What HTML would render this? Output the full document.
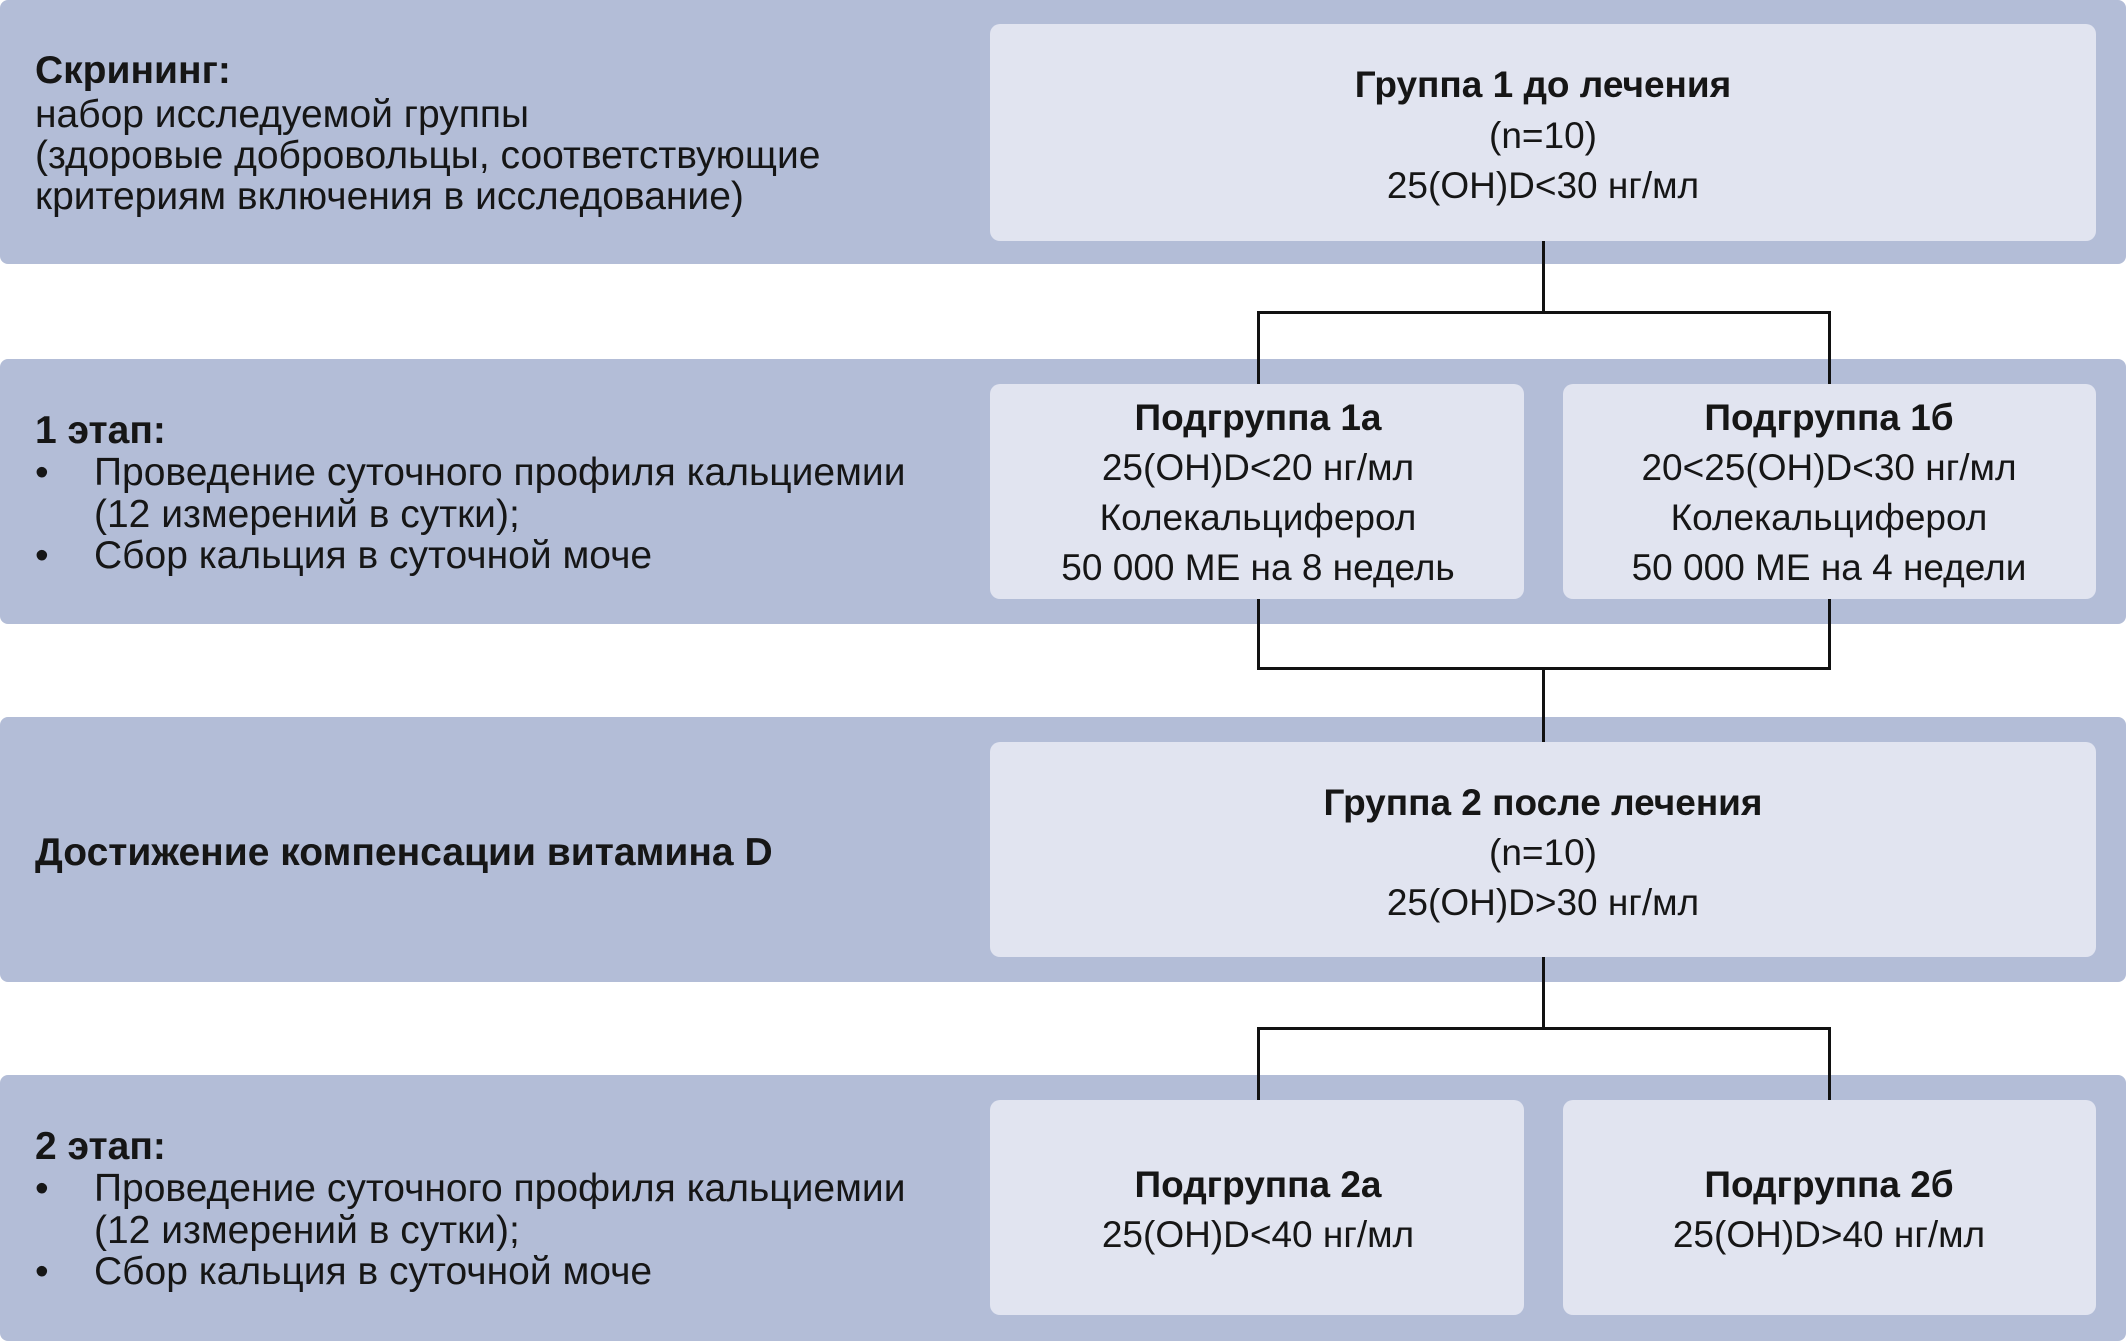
<!DOCTYPE html>
<html><head><meta charset="utf-8"><style>
body{margin:0;width:2126px;height:1341px;position:relative;background:#fff;font-family:"Liberation Sans","DejaVu Sans",sans-serif;color:#161616;overflow:hidden}
.band{position:absolute;left:0;width:2126px;background:#b3bdd7;border-radius:8px}
.box{position:absolute;background:#e1e4f0;border-radius:10px}
.t{position:absolute;font-size:39px;line-height:44px;white-space:nowrap;transform:translateY(-50%)}
.c{text-align:center;transform:translate(-50%,-50%);font-size:37px}
b{font-weight:bold}
.ln{position:absolute;background:#111}
</style></head><body>
<div class="band" style="top:0;height:264px"></div>
<div class="band" style="top:359px;height:265px"></div>
<div class="band" style="top:717px;height:265px"></div>
<div class="band" style="top:1075px;height:266px"></div>

<div class="box" style="left:990px;top:24px;width:1106px;height:217px"></div>
<div class="box" style="left:990px;top:384px;width:534px;height:215px"></div>
<div class="box" style="left:1563px;top:384px;width:533px;height:215px"></div>
<div class="box" style="left:990px;top:742px;width:1106px;height:215px"></div>
<div class="box" style="left:990px;top:1100px;width:534px;height:215px"></div>
<div class="box" style="left:1563px;top:1100px;width:533px;height:215px"></div>

<div class="ln" style="left:1542px;top:241px;width:3px;height:72px"></div>
<div class="ln" style="left:1257px;top:311px;width:574px;height:3px"></div>
<div class="ln" style="left:1257px;top:311px;width:3px;height:73px"></div>
<div class="ln" style="left:1828px;top:311px;width:3px;height:73px"></div>
<div class="ln" style="left:1257px;top:599px;width:3px;height:70px"></div>
<div class="ln" style="left:1828px;top:599px;width:3px;height:70px"></div>
<div class="ln" style="left:1257px;top:667px;width:574px;height:3px"></div>
<div class="ln" style="left:1542px;top:667px;width:3px;height:75px"></div>
<div class="ln" style="left:1542px;top:957px;width:3px;height:72px"></div>
<div class="ln" style="left:1257px;top:1027px;width:574px;height:3px"></div>
<div class="ln" style="left:1257px;top:1027px;width:3px;height:73px"></div>
<div class="ln" style="left:1828px;top:1027px;width:3px;height:73px"></div>

<div class="t" style="left:35px;top:71px"><b>Скрининг:</b></div>
<div class="t" style="left:35px;top:115px">набор исследуемой группы</div>
<div class="t" style="left:35px;top:156px">(здоровые добровольцы, соответствующие</div>
<div class="t" style="left:35px;top:197px">критериям включения в исследование)</div>

<div class="t" style="left:35px;top:431px"><b>1 этап:</b></div>
<div class="t" style="left:35px;top:473px">•</div>
<div class="t" style="left:94px;top:473px">Проведение суточного профиля кальциемии</div>
<div class="t" style="left:94px;top:515px">(12 измерений в сутки);</div>
<div class="t" style="left:35px;top:556px">•</div>
<div class="t" style="left:94px;top:556px">Сбор кальция в суточной моче</div>

<div class="t" style="left:35px;top:853px"><b>Достижение компенсации витамина D</b></div>

<div class="t" style="left:35px;top:1147px"><b>2 этап:</b></div>
<div class="t" style="left:35px;top:1189px">•</div>
<div class="t" style="left:94px;top:1189px">Проведение суточного профиля кальциемии</div>
<div class="t" style="left:94px;top:1231px">(12 измерений в сутки);</div>
<div class="t" style="left:35px;top:1272px">•</div>
<div class="t" style="left:94px;top:1272px">Сбор кальция в суточной моче</div>

<div class="t c" style="left:1543px;top:85px"><b>Группа 1 до лечения</b></div>
<div class="t c" style="left:1543px;top:136px">(n=10)</div>
<div class="t c" style="left:1543px;top:186px">25(OH)D&lt;30 нг/мл</div>

<div class="t c" style="left:1258px;top:418px"><b>Подгруппа 1а</b></div>
<div class="t c" style="left:1258px;top:468px">25(OH)D&lt;20 нг/мл</div>
<div class="t c" style="left:1258px;top:518px">Колекальциферол</div>
<div class="t c" style="left:1258px;top:568px">50 000 МЕ на 8 недель</div>

<div class="t c" style="left:1829px;top:418px"><b>Подгруппа 1б</b></div>
<div class="t c" style="left:1829px;top:468px">20&lt;25(OH)D&lt;30 нг/мл</div>
<div class="t c" style="left:1829px;top:518px">Колекальциферол</div>
<div class="t c" style="left:1829px;top:568px">50 000 МЕ на 4 недели</div>

<div class="t c" style="left:1543px;top:803px"><b>Группа 2 после лечения</b></div>
<div class="t c" style="left:1543px;top:853px">(n=10)</div>
<div class="t c" style="left:1543px;top:903px">25(OH)D&gt;30 нг/мл</div>

<div class="t c" style="left:1258px;top:1185px"><b>Подгруппа 2а</b></div>
<div class="t c" style="left:1258px;top:1235px">25(OH)D&lt;40 нг/мл</div>
<div class="t c" style="left:1829px;top:1185px"><b>Подгруппа 2б</b></div>
<div class="t c" style="left:1829px;top:1235px">25(OH)D&gt;40 нг/мл</div>
</body></html>
